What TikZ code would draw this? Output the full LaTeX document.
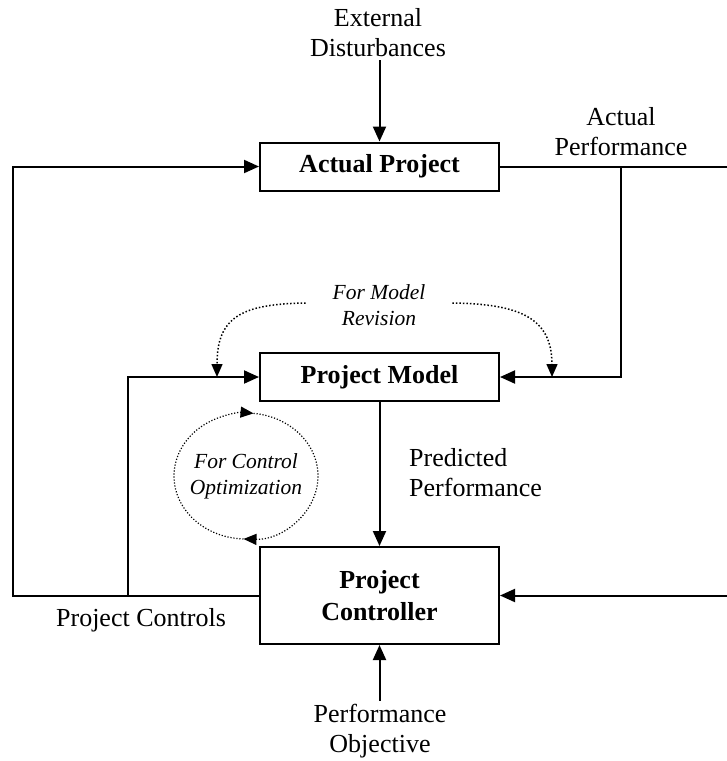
\documentclass[tikz,border=0pt]{standalone}
\usepackage{fontspec}
\setmainfont{Liberation Serif}
\usetikzlibrary{arrows.meta,calc}
\begin{document}
\begin{tikzpicture}[x=1pt,y=-1pt,
  box/.style={draw,line width=2pt,minimum width=239pt,inner sep=0pt,
    font=\fontsize{26}{32}\selectfont\bfseries,align=center},
  lbl/.style={font=\fontsize{26}{30}\selectfont,align=center,inner sep=0pt},
  note/.style={font=\fontsize{21.5}{26}\selectfont\itshape,align=center,inner sep=0pt},
  wire/.style={line width=2pt},
  flow/.style={wire,-{Triangle[length=15pt,width=13pt]}},
  dots/.style={line width=1.5pt,dash pattern=on 1.5pt off 2pt,
    -{Triangle[length=13pt,width=11pt]}},
  fine dots/.style={line width=1.2pt,dash pattern=on 1.2pt off 1.8pt,
    -{Triangle[length=13pt,width=11pt]}}
]
\useasboundingbox (0,0) rectangle (727,761);

% blocks
\node[box,minimum height=48pt] (ap) at (379.5,166.5) {Actual Project};
\node[box,minimum height=48pt] (pm) at (379.5,377) {Project Model};
\node[box,minimum height=97pt] (pc) at (379.5,595.5) {Project\\Controller};

% signal labels
\node[lbl] (ed) at (378,33) {External\\Disturbances};
\node[lbl] (apf) at (621,132) {Actual\\Performance};
\node[lbl,align=left,anchor=west] (pp) at (409,473) {Predicted\\Performance};
\node[lbl] (po) at (380,731) {Performance\\Objective};
\node[lbl] (pcl) at (141,620) {Project Controls};
\node[note] (mr) at (379,305) {For Model\\Revision};
\node[note] (co) at (246,476) {For Control\\Optimization};

% junctions and free ends
\coordinate (rt) at (727,166.5);
\coordinate (br) at (621,166.5);
\coordinate (rb) at (727,595.5);
\coordinate (lc) at (13,0);
\coordinate (mc) at (128,0);
\coordinate (ml) at (217,0);
\coordinate (mrr) at (552,0);

% main signal paths
\draw[flow] ($(ap.north |- ed.south)+(0,3)$) -- (ap.north);
\draw[wire] (ap.east) -- (rt);
\draw[flow] (br) |- (pm.east);
\draw[flow] (rb) -- (pc.east);
\draw[flow] (pm.south) -- (pc.north);
\draw[flow] ($(pc.south |- po.north)+(0,-3)$) -- (pc.south);
\draw[flow] (pc.west) -- (pc.west -| lc) |- (ap.west);
\draw[flow] (pc.west -| mc) |- (pm.west);

% model revision feedback
\draw[dots] ($(mr.west)+(-27,-2)$) .. controls (240,304) and (ml |- 318,318) .. (ml |- pm.west);
\draw[dots] ($(mr.east)+(27,-2)$) .. controls (520,304) and (mrr |- 318,318) .. (mrr |- pm.west);

% control optimization loop
\draw[fine dots] (co.center) ++(92:72 and 63)
  arc[start angle=92,end angle=276,x radius=72,y radius=63];
\draw[fine dots] (co.center) ++(276:72 and 63)
  arc[start angle=276,end angle=452,x radius=72,y radius=63];
\end{tikzpicture}
\end{document}
